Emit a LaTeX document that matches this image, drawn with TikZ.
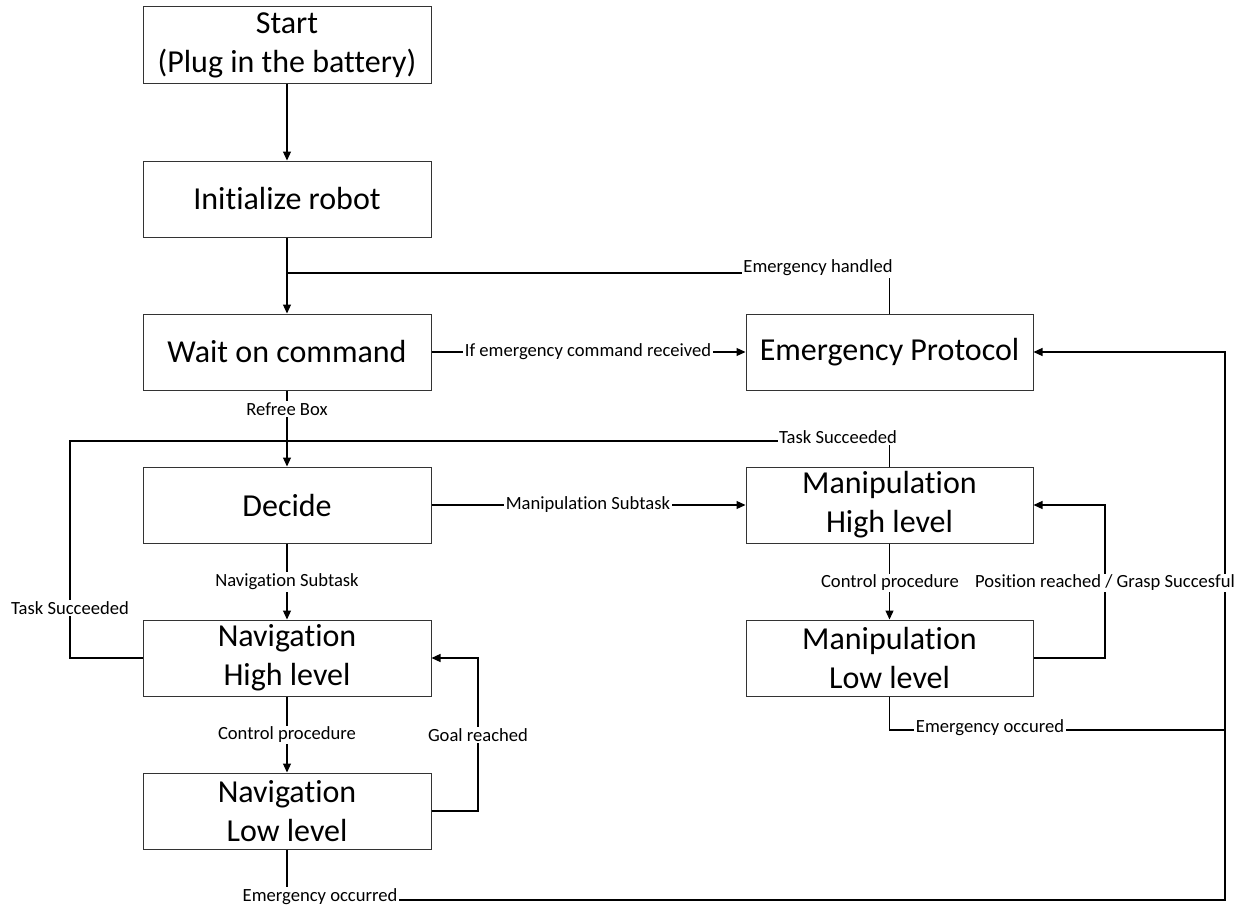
\documentclass[tikz,border=0pt]{standalone}
\usepackage{fontspec}
\setmainfont{Carlito}[Ligatures=CommonOff]
\usetikzlibrary{arrows.meta}
\begin{document}
\begin{tikzpicture}[x=1pt,y=-1pt,
  box/.style={draw=black!80,line width=1pt,rectangle,minimum width=288pt,minimum height=76pt,align=center,font=\fontsize{32}{39}\selectfont,inner sep=0pt},
  lbl/.style={fill=white,inner sep=1.5pt,font=\fontsize{18.6}{22}\selectfont},
  conn/.style={line width=1.2pt},
  arr/.style={conn,-{Triangle[length=9pt,width=8pt]}}]
\useasboundingbox (0,0) rectangle (1250,907);

% boxes
\node[box] (start) at (287,45) {Start\\(Plug in the battery)};
\node[box] (init) at (287,199) {Initialize robot};
\node[box] (wait) at (287,352) {Wait on command};
\node[box,minimum width=287pt] (emerg) at (889.5,352) {Emergency Protocol};
\node[box] (decide) at (287,505) {Decide};
\node[box,minimum width=287pt] (mhigh) at (889.5,505) {Manipulation\\High level};
\node[box] (nhigh) at (287,658) {Navigation\\High level};
\node[box,minimum width=287pt] (mlow) at (889.5,658) {Manipulation\\Low level};
\node[box] (nlow) at (287,811) {Navigation\\Low level};

% coordinates
\coordinate (jh) at (287,273);
\coordinate (jt) at (287,441);
\coordinate (tl) at (70,441);
\coordinate (gr) at (478,811);
\coordinate (pr) at (1105,658);
\coordinate (em) at (1225,730);
\coordinate (eb) at (1225,900);

% connectors
\draw[arr] (start) -- (init);
\draw[arr] (init) -- (wait);
\draw[conn] (emerg.north) |- (jh);
\draw[arr] (wait) -- (emerg);
\draw[arr] (wait) -- (decide);
\draw[conn] (mhigh.north) |- (jt);
\draw[conn] (nhigh.west) -| (tl) -- (jt);
\draw[arr] (decide) -- (mhigh);
\draw[arr] (decide) -- (nhigh);
\draw[arr] (nhigh) -- (nlow);
\draw[arr] (nlow.east) -- (gr) |- (nhigh.east);
\draw[arr] (mhigh) -- (mlow);
\draw[arr] (mlow.east) -- (pr) |- (mhigh.east);
\draw[conn] (mlow.south) |- (em);
\draw[arr] (nlow.south) |- (eb) |- (emerg.east);

% labels
\node[lbl] (l1) at (818,268) {Emergency handled};
\node[lbl] (l2) at (588,352) {If emergency command received};
\node[lbl] (l3) at (287,409) {Refree Box};
\node[lbl] (l4) at (838,437) {Task Succeeded};
\node[lbl] (l5) at (70,608) {Task Succeeded};
\node[lbl] (l6) at (588,505) {Manipulation Subtask};
\node[lbl] (l7) at (287,582) {Navigation Subtask};
\node[lbl] (l8) at (287,735) {Control procedure};
\node[lbl] (l9) at (478,735) {Goal reached};
\node[lbl] (l10) at (890,583) {Control procedure};
\node[lbl] (l11) at (1105,583) {Position reached / Grasp Succesful};
\node[lbl] (l12) at (990,728) {Emergency occured};
\node[lbl] (l13) at (320,897) {Emergency occurred};
\end{tikzpicture}
\end{document}
